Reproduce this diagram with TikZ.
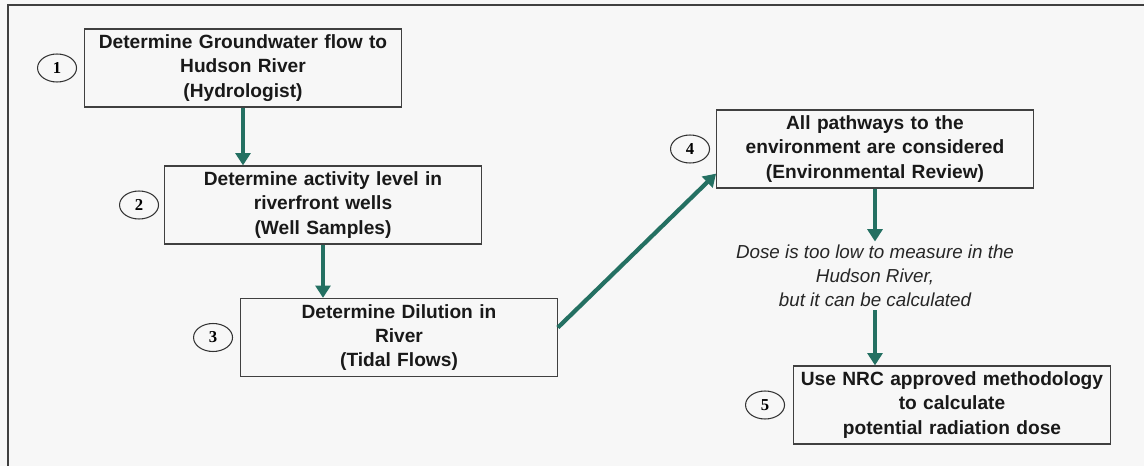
\documentclass[tikz,border=0pt]{standalone}
\usepackage{fontspec}
\setmainfont{Liberation Sans}
\newfontfamily\numfont{Liberation Serif}
\usepackage{xcolor}
\usetikzlibrary{shapes.geometric, arrows.meta, positioning}
\definecolor{flowteal}{RGB}{36,112,98}
\tikzstyle{stepbox} = [rectangle, draw=black!75, line width=0.7pt, minimum width=6.26cm, minimum height=1.52cm, text width=6.1cm, align=center, font=\fontsize{10.9}{13.8}\selectfont\bfseries, text=black!90]
\tikzstyle{stepnum} = [ellipse, draw=black!80, line width=0.6pt, minimum width=0.78cm, minimum height=0.56cm, inner sep=0pt, font=\numfont\fontsize{9.5}{10}\selectfont\bfseries]
\tikzstyle{note} = [align=center, inner sep=2pt, font=\fontsize{10.7}{13.5}\selectfont\itshape, text=black!85]
\tikzstyle{arrow} = [-{Triangle[width=8.5pt,length=7pt]}, line width=2.4pt, draw=flowteal]

\begin{document}
\begin{tikzpicture}[x=0.02cm, y=-0.02cm]

% Page and frame
\useasboundingbox (0,0) rectangle (1144,466);
\clip (0,0) rectangle (1144,466);
\fill[black!3] (0,0) rectangle (1144,466);
\draw[line width=1.4pt, black!75] (8,5) rectangle (1160,480);

% Left column of steps
\node[stepbox] (step1) at (243,68) {Determine Groundwater flow to\\Hudson River\\(Hydrologist)};
\node[stepbox] (step2) at (323,205) {Determine activity level in\\riverfront wells\\(Well Samples)};
\node[stepbox] (step3) at (399,337.5) {Determine Dilution in\\River\\(Tidal Flows)};

% Right column of steps
\node[stepbox] (step4) at (875,149) {All pathways to the\\environment are considered\\(Environmental Review)};
\node[note] (dosenote) at (875,276) {Dose is too low to measure in the\\Hudson River,\\but it can be calculated};
\node[stepbox] (step5) at (952,405) {Use NRC approved methodology\\to calculate\\potential radiation dose};

% Step numbers
\node[stepnum, left=0.14cm of step1] (num1) {1};
\node[stepnum, left=0.1cm of step2] (num2) {2};
\node[stepnum, left=0.14cm of step3] (num3) {3};
\node[stepnum, left=0.12cm of step4] (num4) {4};
\node[stepnum, left=0.16cm of step5] (num5) {5};

% Flow arrows
\draw[arrow] (step1.south) -- (step1.south |- step2.north);
\draw[arrow] (step2.south) -- (step2.south |- step3.north);
\draw[arrow] ([yshift=0.2cm]step3.east) -- ([yshift=0.3cm]step4.south west);
\draw[arrow] (step4.south) -- (dosenote.north);
\draw[arrow] (dosenote.south) -- (dosenote.south |- step5.north);

\end{tikzpicture}
\end{document}
